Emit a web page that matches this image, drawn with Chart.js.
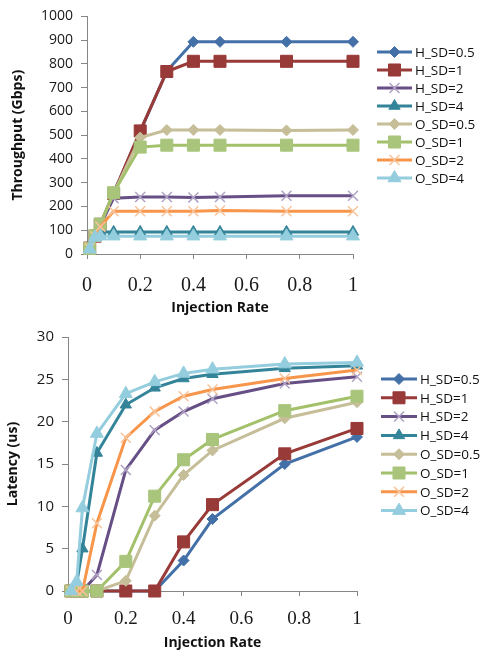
<!DOCTYPE html>
<html>
<head>
<meta charset="utf-8">
<script src="https://cdn.jsdelivr.net/npm/chart.js@4.4.1/dist/chart.umd.min.js"></script>
<style>
  html, body { margin: 0; padding: 0; background: #fff; }
  .box { position: absolute; left: 0; width: 487px; }
  #top { top: 0; height: 320px; }
  #bottom { top: 320px; height: 336px; }
</style>
</head>
<body>
<div class="box" id="top"><canvas id="throughputChart"></canvas></div>
<div class="box" id="bottom"><canvas id="latencyChart"></canvas></div>
<script>
// injection rates (x)
const injectionRates = [0.01, 0.03, 0.05, 0.1, 0.2, 0.3, 0.4, 0.5, 0.75, 1];
const seriesNames = ['H_SD=0.5', 'H_SD=1', 'H_SD=2', 'H_SD=4', 'O_SD=0.5', 'O_SD=1', 'O_SD=2', 'O_SD=4'];

// throughput (Gbps)
const thrH05 = [25, 75, 125, 255, 515, 770, 893, 893, 893, 893];
const thrH1  = [25, 75, 125, 255, 518, 768, 811, 811, 811, 811];
const thrH2  = [25, 75, 120, 235, 240, 240, 238, 240, 245, 245];
const thrH4  = [25, 75, 93, 93, 93, 93, 93, 93, 93, 93];
const thrO05 = [25, 75, 125, 255, 490, 522, 522, 522, 520, 522];
const thrO1  = [23, 78, 126, 258, 450, 458, 458, 458, 458, 458];
const thrO2  = [25, 75, 115, 180, 180, 180, 180, 183, 180, 180];
const thrO4  = [20, 70, 75, 75, 75, 75, 75, 75, 75, 75];

// latency (us)
const latH05 = [0, 0, 0, 0, 0, 0, 3.6, 8.5, 15.0, 18.2];
const latH1  = [0, 0, 0, 0, 0, 0, 5.8, 10.2, 16.2, 19.2];
const latH2  = [0, 0, 0, 1.9, 14.3, 19.0, 21.2, 22.7, 24.5, 25.3];
const latH4  = [0, 0.9, 5.0, 16.3, 22.0, 24.0, 25.1, 25.6, 26.3, 26.6];
const latO05 = [0, 0, 0, 0, 1.2, 8.9, 13.7, 16.6, 20.4, 22.3];
const latO1  = [0, 0, 0, 0, 3.5, 11.2, 15.5, 17.9, 21.3, 23.0];
const latO2  = [0, 0, 0, 8.0, 18.1, 21.2, 23.0, 23.8, 25.1, 26.1];
const latO4  = [0, 1.1, 9.8, 18.6, 23.3, 24.7, 25.7, 26.2, 26.8, 27.0];

const xTicks = [0, 0.2, 0.4, 0.6, 0.8, 1];

const throughputSeries = [thrH05, thrH1, thrH2, thrH4, thrO05, thrO1, thrO2, thrO4];
const latencySeries = [latH05, latH1, latH2, latH4, latO05, latO1, latO2, latO4];

// look of each series (line colour, marker)
const looks = [
  { line: '#4470A8', fill: '#4470A8', edge: '#4470A8', style: 'rectRot', r: 5.5, bw: 1 },
  { line: '#983A38', fill: '#983A38', edge: '#983A38', style: 'rect', r: 8.5, bw: 1 },
  { line: '#664F85', fill: 'rgba(0,0,0,0)', edge: '#AFA2C4', style: 'crossRot', r: 7, bw: 1.5 },
  { line: '#348499', fill: '#348499', edge: '#348499', style: 'triangle', r: 6.5, bw: 1 },
  { line: '#C6BE99', fill: '#C6BE99', edge: '#C6BE99', style: 'rectRot', r: 5.5, bw: 1 },
  { line: '#A2C16A', fill: '#A9C57C', edge: '#A9C57C', style: 'rect', r: 8.5, bw: 1 },
  { line: '#F7954A', fill: 'rgba(0,0,0,0)', edge: '#F9C39A', style: 'crossRot', r: 7, bw: 1.5 },
  { line: '#94CDDD', fill: '#94CDDD', edge: '#94CDDD', style: 'triangle', r: 7.5, bw: 1 }
];

const axisGray = '#868686';

function buildDatasets(seriesList) {
  return seriesList.map((vals, i) => ({
    label: seriesNames[i],
    data: injectionRates.map((x, k) => ({ x: x, y: vals[k] })),
    borderColor: looks[i].line,
    borderWidth: 3,
    backgroundColor: looks[i].fill,
    pointStyle: looks[i].style,
    pointRadius: looks[i].r,
    pointBackgroundColor: looks[i].fill,
    pointBorderColor: looks[i].edge,
    pointBorderWidth: looks[i].bw,
    tension: 0,
    clip: false,
    order: -i
  }));
}

// legend with a short line and the marker on it, drawn on the right
const sideLegend = {
  id: 'sideLegend',
  afterDraw(chart, args, opts) {
    const ctx = chart.ctx;
    chart.data.datasets.forEach((ds, i) => {
      const y = opts.top + i * opts.gap;
      ctx.save();
      ctx.strokeStyle = ds.borderColor;
      ctx.lineWidth = 3;
      ctx.beginPath();
      ctx.moveTo(opts.x, y);
      ctx.lineTo(opts.x + opts.len, y);
      ctx.stroke();
      ctx.fillStyle = ds.pointBackgroundColor;
      ctx.strokeStyle = ds.pointBorderColor;
      ctx.lineWidth = ds.pointBorderWidth;
      Chart.helpers.drawPoint(ctx, {
        pointStyle: ds.pointStyle, radius: ds.pointRadius, rotation: 0, borderWidth: ds.pointBorderWidth
      }, opts.x + opts.len / 2, y);
      ctx.fillStyle = '#111';
      ctx.font = '13.5px "Open Sans"';
      ctx.textAlign = 'left';
      ctx.textBaseline = 'middle';
      ctx.fillText(ds.label, opts.x + opts.len + 3, y + 1);
      ctx.restore();
    });
  }
};

function makeChart(canvasId, seriesList, cfg) {
  const ctx = document.getElementById(canvasId).getContext('2d');
  return new Chart(ctx, {
    type: 'line',
    data: { datasets: buildDatasets(seriesList) },
    options: {
      responsive: true,
      maintainAspectRatio: false,
      animation: false,
      layout: { padding: cfg.padding },
      plugins: {
        legend: { display: false },
        tooltip: { enabled: false },
        sideLegend: cfg.legend
      },
      scales: {
        x: {
          type: 'linear',
          min: 0,
          max: 1,
          afterBuildTicks: s => { s.ticks = xTicks.map(v => ({ value: v })); },
          afterFit: s => { s.height = cfg.xHeight; },
          ticks: {
            callback: v => String(Math.round(v * 10) / 10),
            font: { family: '"Liberation Serif"', size: cfg.xFont },
            color: '#1a1a1a',
            padding: cfg.xPad,
            maxRotation: 0
          },
          grid: { drawOnChartArea: false, drawTicks: true, tickLength: 5, color: axisGray },
          border: { color: axisGray, width: 1 },
          title: {
            display: true,
            text: 'Injection Rate',
            font: { family: '"Open Sans"', size: 14, weight: 'bold' },
            color: '#111',
            padding: { top: 0, bottom: cfg.xTitlePad }
          }
        },
        y: {
          min: 0,
          max: cfg.yMax,
          afterFit: s => { s.width = cfg.yWidth; },
          ticks: {
            stepSize: cfg.yStep,
            callback: v => String(v),
            font: { family: '"Open Sans"', size: cfg.yFont },
            color: '#1a1a1a',
            padding: 8
          },
          grid: { drawOnChartArea: false, drawTicks: true, tickLength: 6, color: axisGray },
          border: { color: axisGray, width: 1 },
          title: {
            display: true,
            text: cfg.yTitle,
            font: { family: '"Open Sans"', size: 14, weight: 'bold' },
            color: '#111',
            padding: { top: cfg.yTitlePad, bottom: 0 }
          }
        }
      }
    },
    plugins: [sideLegend]
  });
}

makeChart('throughputChart', throughputSeries, {
  padding: { left: 0, right: 134, top: 10, bottom: 0 },
  xHeight: 66, xFont: 20, xPad: 15, xTitlePad: 3.6,
  yMax: 1000, yStep: 100, yWidth: 87, yFont: 14, yTitle: 'Throughput (Gbps)', yTitlePad: 9.6,
  legend: { x: 377, len: 35, top: 52, gap: 18 }
});

makeChart('latencyChart', latencySeries, {
  padding: { left: 0, right: 130, top: 17, bottom: 0 },
  xHeight: 65, xFont: 19, xPad: 12, xTitlePad: 4.6,
  yMax: 30, yStep: 5, yWidth: 68, yFont: 15, yTitle: 'Latency (us)', yTitlePad: 4.6,
  legend: { x: 381, len: 36, top: 59, gap: 18.8 }
});
</script>
</body>
</html>
